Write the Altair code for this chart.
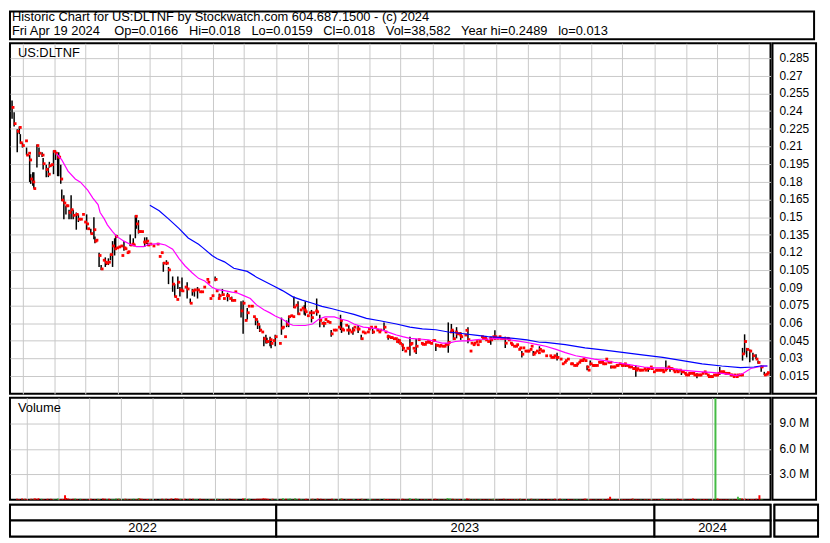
import altair as alt
import pandas as pd

# ---------------- data ----------------
header_line1 = "Historic Chart for US:DLTNF by Stockwatch.com 604.687.1500 - (c) 2024"
header_line2 = ("Fri Apr 19 2024\u00a0\u00a0\u00a0 Op=0.0166\u00a0\u00a0 Hi=0.018\u00a0\u00a0 Lo=0.0159\u00a0\u00a0 "
                "Cl=0.018\u00a0\u00a0 Vol=38,582\u00a0\u00a0 Year hi=0.2489\u00a0\u00a0 lo=0.013")
symbol_label = "US:DLTNF"
volume_label = "Volume"

close_dates = [
    "2022-04-21","2022-04-23","2022-04-26","2022-04-28","2022-04-29","2022-05-01","2022-05-04","2022-05-05","2022-05-07","2022-05-08",
    "2022-05-09","2022-05-11","2022-05-12","2022-05-15","2022-05-17","2022-05-20","2022-05-21","2022-05-24","2022-05-26","2022-05-27",
    "2022-05-29","2022-05-31","2022-06-02","2022-06-04","2022-06-05","2022-06-07","2022-06-08","2022-06-10","2022-06-12","2022-06-13",
    "2022-06-15","2022-06-17","2022-06-19","2022-06-22","2022-06-24","2022-06-26","2022-06-28","2022-06-30","2022-07-02","2022-07-03",
    "2022-07-06","2022-07-09","2022-07-10","2022-07-11","2022-07-14","2022-07-16","2022-07-18","2022-07-20","2022-07-21","2022-07-23",
    "2022-07-25","2022-07-27","2022-07-29","2022-07-30","2022-07-31","2022-08-02","2022-08-04","2022-08-05","2022-08-07","2022-08-08",
    "2022-08-10","2022-08-11","2022-08-13","2022-08-15","2022-08-16","2022-08-18","2022-08-19","2022-08-21","2022-08-22","2022-08-24",
    "2022-08-26","2022-08-27","2022-08-29","2022-08-30","2022-09-01","2022-09-04","2022-09-08","2022-09-10","2022-09-12","2022-09-14",
    "2022-09-17","2022-09-19","2022-09-23","2022-09-25","2022-09-27","2022-09-28","2022-09-30","2022-10-02","2022-10-05","2022-10-07",
    "2022-10-10","2022-10-12","2022-10-14","2022-10-17","2022-10-19","2022-10-21","2022-10-23","2022-10-26","2022-10-27","2022-10-29",
    "2022-10-31","2022-11-03","2022-11-04","2022-11-06","2022-11-07","2022-11-10","2022-11-11","2022-11-14","2022-11-15","2022-11-17",
    "2022-11-19","2022-11-21","2022-11-22","2022-11-28","2022-11-30","2022-12-02","2022-12-04","2022-12-05","2022-12-08","2022-12-10",
    "2022-12-12","2022-12-14","2022-12-16","2022-12-18","2022-12-20","2022-12-22","2022-12-23","2022-12-26","2022-12-27","2022-12-29",
    "2022-12-31","2023-01-04","2023-01-06","2023-01-07","2023-01-09","2023-01-11","2023-01-13","2023-01-15","2023-01-17","2023-01-18",
    "2023-01-20","2023-01-22","2023-01-24","2023-01-26","2023-01-28","2023-01-29","2023-01-31","2023-02-02","2023-02-04","2023-02-05",
    "2023-02-08","2023-02-09","2023-02-12","2023-02-14","2023-02-16","2023-02-17","2023-02-19","2023-02-21","2023-02-23","2023-02-25",
    "2023-02-27","2023-03-02","2023-03-04","2023-03-05","2023-03-06","2023-03-09","2023-03-10","2023-03-12","2023-03-14","2023-03-16",
    "2023-03-17","2023-03-20","2023-03-21","2023-03-24","2023-03-25","2023-03-27","2023-03-30","2023-03-31","2023-04-02","2023-04-04",
    "2023-04-06","2023-04-08","2023-04-10","2023-04-11","2023-04-15","2023-04-16","2023-04-18","2023-04-19","2023-04-21","2023-04-22",
    "2023-04-24","2023-04-26","2023-04-27","2023-04-29","2023-04-30","2023-05-02","2023-05-03","2023-05-05","2023-05-07","2023-05-08",
    "2023-05-10","2023-05-11","2023-05-13","2023-05-14","2023-05-16","2023-05-18","2023-05-21","2023-05-22","2023-05-24","2023-05-25",
    "2023-05-27","2023-05-28","2023-05-30","2023-06-01","2023-06-02","2023-06-04","2023-06-05","2023-06-07","2023-06-08","2023-06-10",
    "2023-06-12","2023-06-13","2023-06-15","2023-06-16","2023-06-18","2023-06-19","2023-06-21","2023-06-23","2023-06-24","2023-06-26",
    "2023-06-27","2023-06-28","2023-07-02","2023-07-03","2023-07-05","2023-07-07","2023-07-08","2023-07-10","2023-07-11","2023-07-13",
    "2023-07-14","2023-07-16","2023-07-18","2023-07-19","2023-07-21","2023-07-22","2023-07-24","2023-07-26","2023-07-27","2023-07-29",
    "2023-07-30","2023-07-31","2023-08-02","2023-08-04","2023-08-05","2023-08-07","2023-08-09","2023-08-10","2023-08-12","2023-08-13",
    "2023-08-15","2023-08-16","2023-08-18","2023-08-20","2023-08-21","2023-08-23","2023-08-24","2023-08-26","2023-08-27","2023-08-29",
    "2023-08-31","2023-09-01","2023-09-03","2023-09-04","2023-09-06","2023-09-07","2023-09-09","2023-09-11","2023-09-12","2023-09-14",
    "2023-09-15","2023-09-18","2023-09-22","2023-09-23","2023-09-25","2023-09-26","2023-09-28","2023-09-29","2023-10-02","2023-10-04",
    "2023-10-06","2023-10-07","2023-10-09","2023-10-12","2023-10-13","2023-10-15","2023-10-17","2023-10-18","2023-10-20","2023-10-21",
    "2023-10-23","2023-10-24","2023-10-26","2023-10-28","2023-10-29","2023-10-31","2023-11-02","2023-11-03","2023-11-04","2023-11-06",
    "2023-11-08","2023-11-09","2023-11-11","2023-11-12","2023-11-14","2023-11-15","2023-11-17","2023-11-19","2023-11-20","2023-11-22",
    "2023-11-23","2023-11-25","2023-11-26","2023-11-28","2023-11-30","2023-12-01","2023-12-03","2023-12-04","2023-12-06","2023-12-07",
    "2023-12-09","2023-12-11","2023-12-12","2023-12-14","2023-12-15","2023-12-17","2023-12-18","2023-12-20","2023-12-22","2023-12-23",
    "2023-12-25","2023-12-26","2023-12-28","2023-12-29","2023-12-31","2024-01-02","2024-01-03","2024-01-05","2024-01-06","2024-01-08",
    "2024-01-09","2024-01-11","2024-01-12","2024-01-14","2024-01-16","2024-01-17","2024-01-19","2024-01-20","2024-01-22","2024-01-23",
    "2024-01-25","2024-01-27","2024-01-28","2024-01-30","2024-01-31","2024-02-02","2024-02-03","2024-02-05","2024-02-07","2024-02-08",
    "2024-02-10","2024-02-11","2024-02-13","2024-02-14","2024-02-16","2024-02-18","2024-02-19","2024-02-21","2024-02-22","2024-02-24",
    "2024-02-25","2024-02-27","2024-02-29","2024-03-01","2024-03-02","2024-03-04","2024-03-06","2024-03-07","2024-03-09","2024-03-10",
    "2024-03-12","2024-03-14","2024-03-15","2024-03-17","2024-03-18","2024-03-20","2024-03-21","2024-03-23","2024-03-25","2024-03-26",
    "2024-03-28","2024-03-30","2024-04-02","2024-04-05","2024-04-08","2024-04-10","2024-04-13","2024-04-16","2024-04-18","2024-04-19",
]

close_values = [
    .2431,.2293,.2228,.2261,.2131,.2107,.2147,.2026,.2042,.1985,
    .1823,.1798,.1742,.2107,.2042,.2026,.1953,.1904,.1864,.1936,
    .1945,.2058,.2042,.2009,.2009,.1823,.1644,.1620,.1596,.1596,
    .1539,.1563,.1515,.1523,.1482,.1482,.1523,.1458,.1442,.1401,
    .1360,.1393,.1296,.1304,.1174,.1060,.1134,.1117,.1109,.1117,
    .1182,.1255,.1231,.1336,.1239,.1247,.1255,.1174,.1239,.1231,
    .1198,.1206,.1263,.1271,.1263,.1507,.1442,.1377,.1377,.1377,
    .1288,.1288,.1296,.1263,.1271,.1255,.1271,.1166,.1198,.1109,
    .1109,.1052,.0931,.0825,.0801,.0947,.0882,.0874,.0906,.0890,
    .0769,.0874,.0882,.0882,.0866,.0866,.0906,.0971,.0947,.0809,
    .0833,.0971,.0874,.0809,.0833,.0842,.0809,.0833,.0833,.0809,
    .0793,.0793,.0866,.0704,.0769,.0623,.0688,.0744,.0744,.0655,
    .0631,.0590,.0541,.0525,.0468,.0444,.0444,.0460,.0428,.0452,
    .0485,.0428,.0558,.0566,.0485,.0590,.0655,.0663,.0655,.0736,
    .0752,.0679,.0712,.0728,.0712,.0696,.0663,.0688,.0647,.0688,
    .0704,.0696,.0623,.0598,.0598,.0631,.0614,.0606,.0509,.0541,
    .0541,.0566,.0623,.0550,.0541,.0582,.0541,.0541,.0525,.0541,
    .0566,.0550,.0550,.0468,.0525,.0517,.0525,.0550,.0566,.0525,
    .0566,.0541,.0525,.0541,.0566,.0525,.0485,.0485,.0477,.0477,
    .0468,.0468,.0444,.0452,.0428,.0412,.0387,.0363,.0387,.0387,
    .0420,.0428,.0387,.0363,.0404,.0460,.0428,.0420,.0420,.0436,
    .0444,.0436,.0428,.0452,.0452,.0412,.0412,.0404,.0412,.0404,
    .0404,.0420,.0420,.0436,.0525,.0541,.0468,.0525,.0509,.0512,
    .0499,.0485,.0499,.0539,.0460,.0363,.0430,.0417,.0430,.0444,
    .0417,.0444,.0485,.0471,.0471,.0458,.0444,.0471,.0458,.0485,
    .0471,.0485,.0471,.0485,.0471,.0471,.0471,.0430,.0471,.0458,
    .0430,.0417,.0404,.0404,.0417,.0377,.0390,.0336,.0390,.0363,
    .0363,.0363,.0377,.0404,.0336,.0349,.0363,.0349,.0377,.0363,
    .0363,.0323,.0323,.0309,.0309,.0323,.0309,.0309,.0295,.0255,
    .0268,.0282,.0295,.0255,.0255,.0241,.0241,.0255,.0268,.0282,
    .0282,.0295,.0282,.0228,.0201,.0255,.0241,.0241,.0241,.0241,
    .0268,.0268,.0268,.0255,.0255,.0295,.0268,.0268,.0228,.0228,
    .0228,.0241,.0241,.0255,.0241,.0241,.0255,.0241,.0241,.0228,
    .0228,.0214,.0214,.0201,.0214,.0201,.0201,.0201,.0214,.0201,
    .0214,.0214,.0228,.0214,.0187,.0201,.0201,.0201,.0201,.0201,
    .0187,.0201,.0214,.0228,.0214,.0214,.0201,.0187,.0201,.0187,
    .0201,.0187,.0187,.0174,.0160,.0160,.0174,.0174,.0174,.0160,
    .0160,.0160,.0160,.0160,.0174,.0187,.0174,.0160,.0146,.0146,
    .0146,.0160,.0160,.0160,.0174,.0187,.0187,.0187,.0174,.0174,
    .0174,.0160,.0160,.0146,.0160,.0146,.0160,.0160,.0160,.0339,
    .0444,.0377,.0363,.0323,.0295,.0266,.0228,.0160,.0166,.0180,
]

# daily volume in thousands of shares
volume_k = [
    120,90,160,70,110,80,60,130,50,140,
    150,100,170,130,90,70,110,120,100,80,
    60,140,90,80,100,540,200,150,90,60,
    120,140,80,110,90,50,70,100,130,60,
    90,120,100,60,150,130,80,110,70,90,
    100,160,120,140,60,70,80,110,90,60,
    80,50,120,60,90,200,150,110,60,70,
    90,100,80,70,60,50,60,110,80,130,
    90,150,170,140,80,120,100,110,60,130,
    110,90,80,120,60,50,70,90,60,100,
    60,110,80,70,90,100,60,50,110,70,
    90,60,70,150,190,100,110,70,60,90,
    120,110,130,180,160,120,90,80,110,70,
    100,80,170,90,110,120,140,60,70,180,
    90,130,80,70,100,120,60,80,110,60,
    70,150,120,60,90,70,50,60,130,80,
    60,70,140,110,60,80,70,100,60,90,
    70,60,100,120,80,60,50,70,80,90,
    60,50,70,60,130,80,90,100,60,50,
    70,60,80,100,70,60,120,90,60,70,
    170,80,60,90,140,100,60,50,70,60,
    60,50,70,80,60,110,60,50,60,70,
    50,60,70,220,150,130,110,80,100,60,
    70,90,60,80,140,120,70,60,50,60,
    60,50,90,60,50,60,70,60,100,70,
    50,120,60,50,60,50,40,110,60,50,
    70,60,80,50,60,90,70,130,60,70,
    50,60,50,70,110,60,50,60,90,50,
    60,80,60,70,50,60,50,110,70,120,
    60,50,60,90,50,70,60,50,60,50,
    40,60,50,130,110,90,60,50,60,50,
    70,50,40,60,50,80,60,50,110,350,
    60,50,40,60,50,60,50,90,50,60,
    50,70,60,160,60,50,60,50,60,40,
    40,90,60,50,80,60,50,60,40,50,
    70,60,150,80,100,50,60,70,50,60,
    50,110,50,70,90,60,50,60,50,70,
    50,140,60,50,60,70,50,60,90,60,
    50,60,50,70,60,11950,150,80,60,50,
    50,60,50,60,50,70,60,50,60,350,
    200,150,110,90,80,100,120,540,70,39,
]

# days on which a visible high-low bar is drawn
range_dates = [
    "2022-04-21","2022-04-23","2022-04-26","2022-04-28","2022-04-29","2022-05-01","2022-05-05","2022-05-08","2022-05-09","2022-05-11",
    "2022-05-12","2022-05-15","2022-05-17","2022-05-20","2022-05-21","2022-05-24","2022-05-26","2022-05-27","2022-05-31","2022-06-02",
    "2022-06-04","2022-06-05","2022-06-07","2022-06-08","2022-06-10","2022-06-12","2022-06-15","2022-06-17","2022-06-19","2022-06-22",
    "2022-06-24","2022-07-02","2022-07-06","2022-07-09","2022-07-10","2022-07-14","2022-07-16","2022-07-20","2022-07-21","2022-07-23",
    "2022-07-25","2022-07-27","2022-07-29","2022-07-30","2022-08-07","2022-08-13","2022-08-16","2022-08-18","2022-08-19","2022-08-21",
    "2022-08-27","2022-08-29","2022-08-30","2022-09-14","2022-09-17","2022-09-19","2022-09-23","2022-09-25","2022-09-28","2022-09-30",
    "2022-10-02","2022-10-07","2022-10-10","2022-10-12","2022-10-14","2022-10-17","2022-11-03","2022-11-07","2022-11-10","2022-11-15",
    "2022-11-19","2022-11-28","2022-11-30","2022-12-04","2022-12-12","2022-12-14","2022-12-16","2022-12-20","2022-12-22","2022-12-23",
    "2022-12-26","2022-12-27","2022-12-31","2023-01-06","2023-01-11","2023-01-13","2023-01-18","2023-01-22","2023-01-28","2023-01-29",
    "2023-02-04","2023-02-09","2023-02-12","2023-02-16","2023-02-23","2023-03-04","2023-03-05","2023-03-12","2023-03-16","2023-03-21",
    "2023-03-24","2023-04-04","2023-04-15","2023-04-19","2023-04-29","2023-05-03","2023-05-10","2023-05-16","2023-06-04","2023-06-16",
    "2023-06-19","2023-06-21","2023-06-24","2023-06-28","2023-07-05","2023-07-27","2023-07-31","2023-08-10","2023-08-26","2023-09-06",
    "2023-09-12","2023-09-29","2023-10-28","2023-10-31","2023-11-20","2023-12-04","2023-12-14","2023-12-26","2024-01-12","2024-01-16",
    "2024-01-27","2024-02-11","2024-03-04","2024-03-26","2024-03-28","2024-03-30","2024-04-02","2024-04-05","2024-04-08","2024-04-10",
    "2024-04-13","2024-04-16","2024-04-18","2024-04-19",
]
range_highs = [
    .2489,.2390,.2245,.2269,.2204,.2131,.2090,.2026,.1864,.1880,
    .1880,.2115,.2090,.2050,.2001,.1945,.1920,.1969,.2066,.2066,
    .2026,.2050,.1945,.1734,.1685,.1596,.1563,.1685,.1563,.1539,
    .1523,.1523,.1401,.1498,.1336,.1198,.1093,.1158,.1117,.1150,
    .1190,.1296,.1320,.1352,.1296,.1352,.1320,.1515,.1515,.1474,
    .1328,.1328,.1279,.1117,.1134,.1077,.0996,.0931,.0996,.0906,
    .0987,.0947,.0809,.0890,.0890,.0906,.0996,.0850,.0890,.0858,
    .0825,.0785,.0793,.0728,.0647,.0623,.0582,.0485,.0501,.0477,
    .0485,.0460,.0501,.0647,.0623,.0663,.0825,.0785,.0752,.0785,
    .0712,.0809,.0671,.0614,.0541,.0671,.0631,.0582,.0566,.0582,
    .0501,.0550,.0606,.0501,.0468,.0428,.0485,.0468,.0428,.0606,
    .0593,.0539,.0566,.0525,.0566,.0485,.0539,.0485,.0363,.0363,
    .0404,.0349,.0241,.0282,.0241,.0255,.0241,.0228,.0282,.0228,
    .0201,.0174,.0228,.0390,.0505,.0390,.0377,.0349,.0336,.0282,
    .0241,.0187,.0174,.0180,
]
range_lows = [
    .2334,.2269,.2050,.2204,.2123,.2090,.2026,.1798,.1782,.1766,
    .1742,.1920,.2009,.2009,.1904,.1839,.1839,.1920,.1864,.1985,
    .1847,.1847,.1782,.1636,.1482,.1523,.1482,.1482,.1482,.1393,
    .1458,.1393,.1360,.1312,.1279,.1077,.1052,.1077,.1093,.1093,
    .1134,.1077,.1174,.1231,.1215,.1255,.1255,.1320,.1401,.1360,
    .1247,.1271,.1255,.1036,.1093,.0931,.0866,.0825,.0890,.0825,
    .0866,.0809,.0769,.0833,.0825,.0809,.0955,.0809,.0833,.0785,
    .0785,.0647,.0509,.0631,.0582,.0550,.0525,.0404,.0428,.0428,
    .0404,.0387,.0404,.0501,.0566,.0566,.0728,.0671,.0671,.0663,
    .0606,.0663,.0566,.0566,.0485,.0541,.0517,.0501,.0501,.0517,
    .0460,.0509,.0541,.0460,.0428,.0363,.0323,.0339,.0363,.0349,
    .0525,.0458,.0471,.0458,.0430,.0417,.0458,.0390,.0309,.0323,
    .0363,.0282,.0201,.0241,.0214,.0228,.0146,.0187,.0201,.0187,
    .0160,.0133,.0160,.0282,.0336,.0309,.0268,.0282,.0295,.0255,
    .0187,.0160,.0160,.0159,
]

# short moving average (magenta)
ma_fast_dates = [
    "2022-06-03","2022-06-08","2022-06-14","2022-06-21","2022-06-26","2022-07-03","2022-07-08","2022-07-13","2022-07-15","2022-07-19",
    "2022-07-22","2022-07-27","2022-07-31","2022-08-07","2022-08-13","2022-08-19","2022-08-26","2022-08-31","2022-09-10","2022-09-16",
    "2022-09-23","2022-09-29","2022-10-05","2022-10-12","2022-10-18","2022-10-24","2022-10-31","2022-11-05","2022-11-12","2022-11-19",
    "2022-11-24","2022-11-30","2022-12-07","2022-12-13","2022-12-20","2022-12-26","2022-12-31","2023-01-07","2023-01-14","2023-01-17",
    "2023-01-23","2023-01-29","2023-02-05","2023-02-11","2023-02-17","2023-02-26","2023-03-05","2023-03-11","2023-03-17","2023-03-26",
    "2023-04-02","2023-04-09","2023-04-14","2023-04-21","2023-04-27","2023-05-03","2023-05-10","2023-05-16","2023-05-22","2023-05-28",
    "2023-06-04","2023-06-10","2023-06-16","2023-06-23","2023-06-29","2023-07-05","2023-07-12","2023-07-17","2023-07-24","2023-07-31",
    "2023-08-12","2023-08-21","2023-08-31","2023-09-09","2023-09-18","2023-09-28","2023-10-07","2023-10-17","2023-10-26","2023-11-04",
    "2023-11-14","2023-11-23","2023-12-03","2023-12-12","2023-12-22","2023-12-31","2024-01-09","2024-01-19","2024-01-28","2024-02-07",
    "2024-02-16","2024-02-25","2024-03-06","2024-03-15","2024-03-20","2024-03-26","2024-04-03","2024-04-10","2024-04-15","2024-04-19",
]
ma_fast_values = [
    .2039,.1985,.1890,.1823,.1796,.1728,.1661,.1606,.1539,.1485,
    .1434,.1377,.1336,.1296,.1269,.1250,.1250,.1269,.1274,.1263,
    .1228,.1150,.1085,.1026,.0980,.0958,.0904,.0885,.0876,.0863,
    .0858,.0836,.0809,.0755,.0714,.0687,.0661,.0633,.0593,.0582,
    .0580,.0580,.0593,.0633,.0653,.0653,.0633,.0620,.0593,.0566,
    .0560,.0552,.0539,.0517,.0499,.0485,.0471,.0466,.0463,.0458,
    .0444,.0430,.0430,.0444,.0450,.0450,.0458,.0463,.0463,.0471,
    .0463,.0450,.0436,.0420,.0404,.0377,.0350,.0323,.0309,.0295,
    .0282,.0268,.0255,.0241,.0228,.0220,.0220,.0214,.0201,.0193,
    .0187,.0182,.0174,.0163,.0155,.0170,.0215,.0228,.0236,.0236,
]

# long moving average (blue)
ma_slow_dates = [
    "2022-09-01","2022-09-10","2022-09-19","2022-09-29","2022-10-08","2022-10-18","2022-10-22","2022-10-31","2022-11-05","2022-11-12",
    "2022-11-21","2022-12-04","2022-12-13","2022-12-29","2023-01-07","2023-01-17","2023-01-26","2023-02-05","2023-02-14","2023-02-24",
    "2023-03-05","2023-03-17","2023-03-29","2023-04-11","2023-04-27","2023-05-10","2023-05-22","2023-06-04","2023-06-16","2023-06-29",
    "2023-07-12","2023-07-24","2023-08-05","2023-08-18","2023-08-31","2023-09-12","2023-09-18","2023-10-07","2023-10-26","2023-11-14",
    "2023-12-03","2023-12-22","2024-01-09","2024-01-28","2024-02-16","2024-03-06","2024-03-24","2024-04-06","2024-04-12","2024-04-19",
]
ma_slow_values = [
    .1601,.1553,.1485,.1404,.1323,.1269,.1241,.1174,.1147,.1120,
    .1066,.1039,.0990,.0917,.0876,.0823,.0795,.0769,.0742,.0722,
    .0701,.0674,.0641,.0620,.0593,.0566,.0552,.0544,.0525,.0512,
    .0499,.0485,.0479,.0471,.0458,.0438,.0436,.0417,.0390,.0371,
    .0349,.0328,.0309,.0282,.0255,.0236,.0222,.0228,.0236,.0236,
]

year_labels = ["2022", "2023", "2024"]
year_starts = ["2022-04-19", "2023-01-01", "2024-01-01"]
year_ends = ["2023-01-01", "2024-01-01", "2024-04-22"]

price_ticks = [0.015, 0.03, 0.045, 0.06, 0.075, 0.09, 0.105, 0.12, 0.135, 0.15,
               0.165, 0.18, 0.195, 0.21, 0.225, 0.24, 0.255, 0.27, 0.285]
volume_ticks = [3000000, 6000000, 9000000]

# ---------------- tables ----------------
n = min(len(close_dates), len(close_values), len(volume_k))
closes_df = pd.DataFrame({
    "date": close_dates[:n],
    "close": close_values[:n],
    "volume": [v * 1000 for v in volume_k[:n]],
})
closes_df["dir"] = ["up" if i > 0 and close_values[i] > close_values[i - 1] else "down" for i in range(n)]

m = min(len(range_dates), len(range_highs), len(range_lows))
range_df = pd.DataFrame({"date": range_dates[:m], "high": range_highs[:m], "low": range_lows[:m]})

k = min(len(ma_fast_dates), len(ma_fast_values))
fast_df = pd.DataFrame({"date": ma_fast_dates[:k], "ma": ma_fast_values[:k]})
k2 = min(len(ma_slow_dates), len(ma_slow_values))
slow_df = pd.DataFrame({"date": ma_slow_dates[:k2], "ma": ma_slow_values[:k2]})

band_rows = []
for lab, s, e in zip(year_labels, year_starts, year_ends):
    mid = (pd.Timestamp(s) + (pd.Timestamp(e) - pd.Timestamp(s)) / 2).strftime("%Y-%m-%d")
    band_rows.append({"start": s, "end": e, "mid": mid, "row": "a", "text": ""})
    band_rows.append({"start": s, "end": e, "mid": mid, "row": "b", "text": lab})
band_df = pd.DataFrame(band_rows)

price_tick_df = pd.DataFrame({"v": price_ticks,
                              "label": [format(v, ".3f").rstrip("0") for v in price_ticks]})
vol_tick_df = pd.DataFrame({"v": volume_ticks,
                            "label": [format(v / 1e6, ".1f") + " M" for v in volume_ticks]})

# ---------------- encodings ----------------
FONT = "Liberation Sans"
W = 768
SIDE = 44
H_HEAD, H_PRICE, H_VOL, H_BAND = 28, 354, 103, 32

x_domain = [alt.DateTime(year=2022, month=4, date=19, utc=True),
            alt.DateTime(year=2024, month=4, date=22, utc=True)]
month_values = [alt.DateTime(year=int(d.year), month=int(d.month), date=1, utc=True)
                for d in pd.date_range("2022-05-01", "2024-04-01", freq="MS")]


def xenc(field="date"):
    return alt.X(f"{field}:T", scale=alt.Scale(domain=x_domain),
                 axis=alt.Axis(values=month_values, labels=False, ticks=False, domain=False,
                               grid=True, title=None))


price_scale = alt.Scale(domain=[0, 0.2975], nice=False, zero=False)
price_axis = alt.Axis(values=price_ticks, labels=False, grid=True, ticks=False, domain=False, title=None)
vol_scale = alt.Scale(domain=[0, 12000000], nice=False)
vol_axis = alt.Axis(values=volume_ticks, labels=False, grid=True, ticks=False, domain=False, title=None)

# header box
head1 = alt.Chart(pd.DataFrame({"t": [header_line1]})).mark_text(
    align="left", baseline="top", font=FONT, fontSize=13, color="black").encode(
    x=alt.value(2), y=alt.value(0), text="t:N")
head2 = alt.Chart(pd.DataFrame({"t": [header_line2]})).mark_text(
    align="left", baseline="top", font=FONT, fontSize=13, color="black").encode(
    x=alt.value(2), y=alt.value(14), text="t:N")
header = alt.layer(head1, head2).properties(width=W + SIDE, height=H_HEAD)

# price panel
bars = alt.Chart(range_df).mark_rule(color="black", strokeWidth=1.5).encode(
    x=xenc(), y=alt.Y("low:Q", scale=price_scale, axis=price_axis), y2="high:Q")
closes = alt.Chart(closes_df).mark_square(color="#ff0000", size=8, opacity=1, xOffset=1).encode(
    x=xenc(), y=alt.Y("close:Q", scale=price_scale, axis=price_axis))
fast = alt.Chart(fast_df).mark_line(color="#ff00ff", strokeWidth=1.2).encode(
    x=xenc(), y=alt.Y("ma:Q", scale=price_scale, axis=price_axis))
slow = alt.Chart(slow_df).mark_line(color="#0000ff", strokeWidth=1.2).encode(
    x=xenc(), y=alt.Y("ma:Q", scale=price_scale, axis=price_axis))
sym = alt.Chart(pd.DataFrame({"t": [symbol_label]})).mark_text(
    align="left", baseline="top", font=FONT, fontSize=13, color="black").encode(
    x=alt.value(8), y=alt.value(4), text="t:N")
price = alt.layer(bars, closes, fast, slow, sym).properties(width=W, height=H_PRICE)

price_side = alt.Chart(price_tick_df).mark_text(
    align="left", baseline="middle", font=FONT, fontSize=12, color="black").encode(
    x=alt.value(7), y=alt.Y("v:Q", scale=price_scale, axis=None), text="label:N"
).properties(width=SIDE, height=H_PRICE)

# volume panel
vol_bars = alt.Chart(closes_df).mark_bar(size=2, clip=True).encode(
    x=xenc(),
    y=alt.Y("volume:Q", scale=vol_scale, axis=vol_axis),
    color=alt.Color("dir:N", scale=alt.Scale(domain=["up", "down"], range=["#44bb44", "#ff0000"]),
                    legend=None),
)
vol_lab = alt.Chart(pd.DataFrame({"t": [volume_label]})).mark_text(
    align="left", baseline="top", font=FONT, fontSize=13, color="black").encode(
    x=alt.value(8), y=alt.value(4), text="t:N")
volume = alt.layer(vol_bars, vol_lab).properties(width=W, height=H_VOL)

vol_side = alt.Chart(vol_tick_df).mark_text(
    align="left", baseline="middle", font=FONT, fontSize=12, color="black").encode(
    x=alt.value(7), y=alt.Y("v:Q", scale=vol_scale, axis=None), text="label:N"
).properties(width=SIDE, height=H_VOL)

# year band
band_x = alt.X("start:T", scale=alt.Scale(domain=x_domain), axis=None)
band_y = alt.Y("row:N", sort=["a", "b"], axis=None, scale=alt.Scale(paddingInner=0, paddingOuter=0))
band_rect = alt.Chart(band_df).mark_rect(fill="white", stroke="black", strokeWidth=2).encode(
    x=band_x, x2="end:T", y=band_y)
band_text = alt.Chart(band_df).mark_text(font=FONT, fontSize=13, color="black", baseline="middle").encode(
    x=alt.X("mid:T", scale=alt.Scale(domain=x_domain), axis=None), y=band_y, text="text:N")
bands = alt.layer(band_rect, band_text).properties(width=W, height=H_BAND)

band_side = alt.Chart(pd.DataFrame({"row": ["a", "b"]})).mark_rect(
    fill="white", stroke="black", strokeWidth=2).encode(
    x=alt.value(0), x2=alt.value(SIDE), y=band_y
).properties(width=SIDE, height=H_BAND)

chart = alt.vconcat(
    header,
    alt.hconcat(price, price_side, spacing=0),
    alt.hconcat(volume, vol_side, spacing=0),
    alt.hconcat(bands, band_side, spacing=0),
    spacing=2,
).properties(
    padding={"left": 0, "top": 0, "right": 2, "bottom": 2},
    background="white",
).configure_view(stroke="black", strokeWidth=2).configure_axis(
    gridColor="#c8c8c8", gridWidth=1, gridOpacity=1
)

chart.save("out.html", embed_options={"renderer": "svg", "actions": False})
